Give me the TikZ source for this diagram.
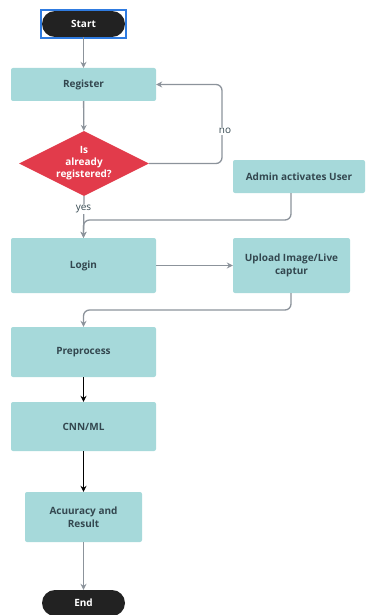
\documentclass[tikz,border=0pt]{standalone}
\usepackage{fontspec}
\setmainfont{Open Sans}
\usepackage{tikz}
\usetikzlibrary{shapes.geometric, arrows.meta}
\definecolor{boxteal}{HTML}{A6D9DA}
\definecolor{textslate}{HTML}{33474F}
\definecolor{decred}{HTML}{E23B4B}
\definecolor{pilldark}{HTML}{222222}
\definecolor{linegray}{HTML}{8C939B}
\definecolor{selblue}{HTML}{2F7BE0}
\tikzstyle{block} = [rectangle, fill=boxteal, rounded corners=2pt,
                 text=textslate, font=\bfseries\fontsize{10}{13}\selectfont, align=center]
\tikzstyle{pill} = [rectangle, fill=pilldark, rounded corners=13pt, text=white,
                 minimum width=83pt, minimum height=26pt, font=\bfseries\fontsize{10}{12}\selectfont]
\tikzstyle{decision} = [diamond, fill=decred, text=white, aspect=2, inner sep=0pt,
                 minimum width=130pt, minimum height=65pt, align=center,
                 font=\bfseries\fontsize{10}{12}\selectfont]
\tikzstyle{flow} = [draw=linegray, line width=1.3pt, rounded corners=6pt, -{Stealth[length=6pt,width=6pt]}]
\tikzstyle{darkflow} = [draw=black, line width=1.3pt, -{Stealth[length=6pt,width=6pt]}]
\tikzstyle{tag} = [fill=white, text=textslate, inner sep=1pt, font=\fontsize{10}{12}\selectfont]

\begin{document}
\begin{tikzpicture}[x=1pt, y=-1pt]
\useasboundingbox (0,0) rectangle (369,615);

\node [pill] at (83.5,24) (start) {Start};
\draw [selblue, line width=1.3pt] (41,10) rectangle (126,38);

\node [block, minimum width=145pt, minimum height=33pt] at (83.5,84.5) (register) {Register};
\node [decision] at (84,163.5) (registered) {Is\\ already\\ registered?};
\node [block, minimum width=132pt, minimum height=33pt] at (299,176.5) (activate) {Admin activates User};
\node [block, minimum width=145pt, minimum height=55pt] at (83.5,265.5) (login) {Login};
\node [block, minimum width=117pt, minimum height=55pt] at (291.5,265.5) (upload) {Upload Image/Live\\ captur};
\node [block, minimum width=145pt, minimum height=50pt] at (83.5,352) (preprocess) {Preprocess};
\node [block, minimum width=145pt, minimum height=49pt] at (83.5,426.5) (cnn) {CNN/ML};
\node [block, minimum width=117pt, minimum height=50pt] at (83.5,517) (accuracy) {Acuuracy and\\ Result};
\node [pill] at (83.5,603) (end) {End};

\coordinate (noturn) at (222,163.5);
\coordinate (adminturn) at (291,220);
\coordinate (uploadturn) at (291,310);

\path [flow] (start) -- (register);
\path [flow] (register) -- (registered);
\path [flow] (registered.east) -- (noturn) -- (noturn |- register.east) -- (register.east);
\node [tag] at (225,131) {no};
\path [flow] (registered.south) -- (login.north);
\node [tag] at (83.5,209) {yes};
\path [flow] (activate.south -| adminturn) -- (adminturn) -- (adminturn -| login.north) -- (login.north);
\path [flow] (login) -- (upload);
\path [flow] (upload.south -| uploadturn) -- (uploadturn) -- (uploadturn -| preprocess.north) -- (preprocess.north);
\path [darkflow] (preprocess) -- (cnn);
\path [darkflow] (cnn) -- (accuracy);
\path [flow] (accuracy) -- (end);

\end{tikzpicture}
\end{document}
